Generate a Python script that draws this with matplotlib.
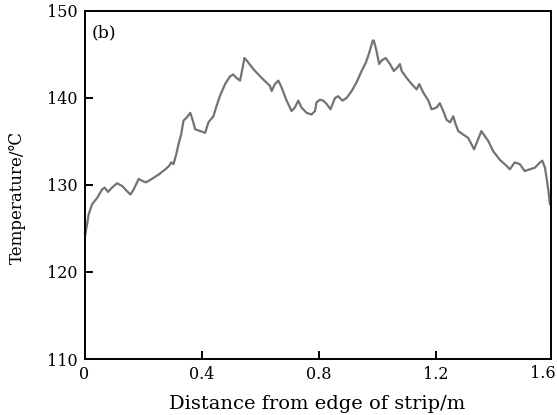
import matplotlib
matplotlib.use("Agg")
import matplotlib.pyplot as plt

plt.rcParams['font.family'] = ['DejaVu Serif']

distance = [0.000, 0.009, 0.014, 0.026, 0.043, 0.060, 0.069, 0.080, 0.094, 0.111,
            0.128, 0.145, 0.157, 0.168, 0.185, 0.196, 0.210, 0.230, 0.253, 0.276,
            0.289, 0.296, 0.304, 0.313, 0.321, 0.330, 0.338, 0.350, 0.361, 0.369,
            0.378, 0.395, 0.412, 0.423, 0.440, 0.451, 0.462, 0.480, 0.497, 0.508,
            0.519, 0.531, 0.540, 0.546, 0.554, 0.577, 0.605, 0.633, 0.639, 0.650,
            0.662, 0.673, 0.690, 0.707, 0.718, 0.730, 0.741, 0.758, 0.775, 0.787,
            0.792, 0.804, 0.815, 0.827, 0.840, 0.855, 0.866, 0.881, 0.895, 0.912,
            0.929, 0.946, 0.961, 0.972, 0.984, 0.988, 0.997, 1.006, 1.014, 1.028,
            1.043, 1.056, 1.068, 1.077, 1.083, 1.100, 1.117, 1.134, 1.143, 1.157,
            1.174, 1.185, 1.202, 1.213, 1.225, 1.236, 1.248, 1.259, 1.267, 1.276,
            1.293, 1.310, 1.321, 1.330, 1.342, 1.355, 1.367, 1.378, 1.395, 1.418,
            1.441, 1.452, 1.469, 1.486, 1.503, 1.520, 1.538, 1.555, 1.563, 1.572,
            1.578, 1.584, 1.589]
temperature = [123.8, 125.5, 126.6, 127.8, 128.5, 129.5, 129.7, 129.2, 129.7, 130.2,
               129.9, 129.3, 128.9, 129.5, 130.7, 130.5, 130.3, 130.7, 131.2, 131.8,
               132.2, 132.6, 132.4, 133.5, 134.7, 135.8, 137.4, 137.8, 138.3, 137.5,
               136.4, 136.2, 136.0, 137.2, 137.9, 139.1, 140.2, 141.6, 142.5, 142.7,
               142.3, 142.0, 143.5, 144.6, 144.3, 143.3, 142.3, 141.4, 140.8, 141.6,
               142.0, 141.2, 139.7, 138.5, 138.9, 139.7, 138.9, 138.3, 138.1, 138.5,
               139.5, 139.8, 139.7, 139.3, 138.7, 140.0, 140.2, 139.7, 140.0, 140.8,
               141.8, 143.1, 144.1, 145.2, 146.6, 146.6, 145.4, 143.9, 144.3, 144.6,
               143.9, 143.1, 143.5, 143.9, 143.1, 142.3, 141.6, 141.0, 141.6, 140.6,
               139.7, 138.7, 138.9, 139.4, 138.5, 137.5, 137.2, 137.9, 137.0, 136.2,
               135.8, 135.4, 134.7, 134.1, 135.1, 136.2, 135.6, 135.1, 133.9, 132.9,
               132.2, 131.8, 132.6, 132.4, 131.6, 131.8, 132.0, 132.6, 132.8, 132.0,
               130.7, 129.3, 127.8]

x_ticks = [0, 0.4, 0.8, 1.2]
x_ticklabels = ["0", "0.4", "0.8", "1.2"]
x_last_label = "1.6"
y_ticks = [110, 120, 130, 140, 150]
y_ticklabels = ["110", "120", "130", "140", "150"]

W, H = 557, 415
L, R, T, B = 84.5, 550.5, 11, 359

fig = plt.figure(figsize=(W/100, H/100), dpi=100)
ax = fig.add_axes([L/W, 1-B/H, (R-L)/W, (B-T)/H])
ax.plot(distance, temperature, color='#737373', lw=1.6)
ax.set_xlim(0, (R-L)/292.9)
ax.set_ylim(110, 150)
ax.set_xticks(x_ticks)
ax.set_xticklabels(x_ticklabels)
ax.set_yticks(y_ticks)
ax.set_yticklabels(y_ticklabels)
ax.tick_params(direction='in', length=6, width=1.4, labelsize=11.5, pad=5,
               top=False, right=False)
# last x label (1.6) sits at the right edge of the axes
ax.text(1.607, -0.018, x_last_label, transform=ax.get_xaxis_transform(),
        ha='right', va='top', fontsize=11.5, clip_on=False)
for s in ax.spines.values():
    s.set_linewidth(1.4)
ax.set_xlabel("Distance from edge of strip/m", fontsize=14, labelpad=9)
ax.set_ylabel("Temperature/\u2103", fontsize=12)
ax.yaxis.set_label_coords(-0.1255, 0.4655)
ax.text(0.016, 0.962, "(b)", transform=ax.transAxes, fontsize=12.5, va='top', ha='left')
fig.savefig("out.png", dpi=100)
